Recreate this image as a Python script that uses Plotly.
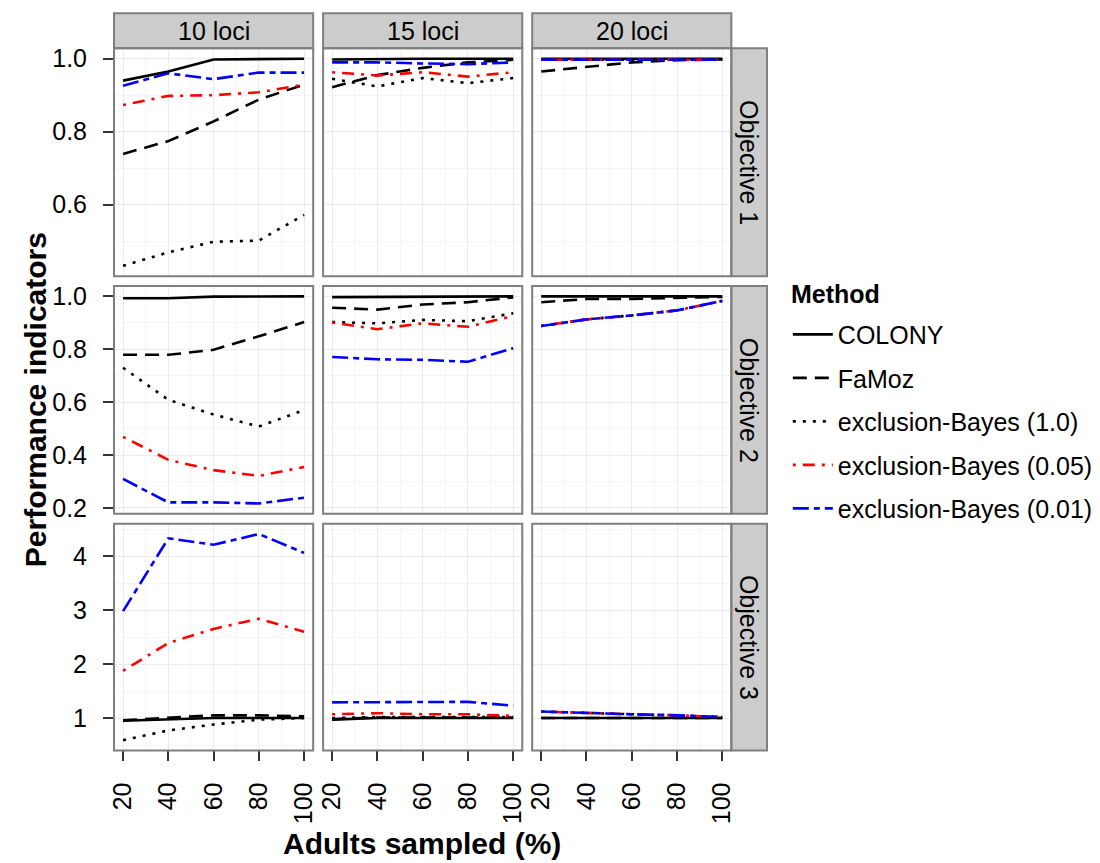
import plotly.graph_objects as go

# ---------------- data ----------------
adults = [20, 40, 60, 80, 100]
loci = ["10 loci", "15 loci", "20 loci"]
objectives = ["Objective 1", "Objective 2", "Objective 3"]
methods = ["COLONY", "FaMoz", "exclusion-Bayes (1.0)",
           "exclusion-Bayes (0.05)", "exclusion-Bayes (0.01)"]

# Objective 1
o1_l10_colony = [0.940, 0.965, 0.998, 0.998, 1.000]
o1_l10_famoz = [0.739, 0.774, 0.828, 0.888, 0.929]
o1_l10_eb100 = [0.432, 0.469, 0.498, 0.501, 0.572]
o1_l10_eb005 = [0.873, 0.898, 0.900, 0.908, 0.929]
o1_l10_eb001 = [0.926, 0.960, 0.944, 0.962, 0.962]

o1_l15_colony = [0.998, 1.000, 1.000, 1.000, 1.000]
o1_l15_famoz = [0.922, 0.955, 0.975, 0.990, 0.997]
o1_l15_eb100 = [0.945, 0.924, 0.947, 0.933, 0.947]
o1_l15_eb005 = [0.963, 0.954, 0.963, 0.951, 0.963]
o1_l15_eb001 = [0.990, 0.990, 0.987, 0.985, 0.990]

o1_l20_colony = [1.000, 1.000, 1.000, 1.000, 1.000]
o1_l20_famoz = [0.965, 0.978, 0.990, 0.996, 0.998]
o1_l20_eb100 = [0.997, 0.997, 0.997, 0.997, 0.997]
o1_l20_eb005 = [0.997, 0.997, 0.997, 0.997, 0.997]
o1_l20_eb001 = [0.997, 0.997, 0.997, 0.997, 0.997]

# Objective 2
o2_l10_colony = [0.993, 0.993, 0.999, 0.999, 1.000]
o2_l10_famoz = [0.779, 0.779, 0.798, 0.849, 0.903]
o2_l10_eb100 = [0.730, 0.609, 0.553, 0.508, 0.570]
o2_l10_eb005 = [0.469, 0.382, 0.343, 0.321, 0.355]
o2_l10_eb001 = [0.310, 0.221, 0.221, 0.217, 0.239]

o2_l15_colony = [0.997, 0.998, 0.999, 0.999, 1.000]
o2_l15_famoz = [0.957, 0.950, 0.969, 0.978, 0.996]
o2_l15_eb100 = [0.903, 0.898, 0.911, 0.906, 0.936]
o2_l15_eb005 = [0.901, 0.876, 0.898, 0.885, 0.926]
o2_l15_eb001 = [0.771, 0.762, 0.760, 0.753, 0.804]

o2_l20_colony = [1.000, 1.000, 1.000, 1.000, 1.000]
o2_l20_famoz = [0.978, 0.990, 0.990, 0.993, 0.998]
o2_l20_eb100 = [0.888, 0.913, 0.928, 0.947, 0.983]
o2_l20_eb005 = [0.888, 0.913, 0.928, 0.947, 0.983]
o2_l20_eb001 = [0.888, 0.913, 0.928, 0.947, 0.983]

# Objective 3
o3_l10_colony = [0.95, 0.98, 1.00, 1.00, 1.00]
o3_l10_famoz = [0.96, 1.00, 1.05, 1.05, 1.03]
o3_l10_eb100 = [0.59, 0.77, 0.88, 0.97, 1.00]
o3_l10_eb005 = [1.875, 2.39, 2.65, 2.84, 2.60]
o3_l10_eb001 = [2.98, 4.33, 4.21, 4.41, 4.06]

o3_l15_colony = [0.97, 1.00, 1.00, 1.00, 1.00]
o3_l15_famoz = [0.98, 1.01, 1.01, 1.01, 1.01]
o3_l15_eb100 = [1.00, 1.02, 1.02, 1.02, 1.02]
o3_l15_eb005 = [1.07, 1.09, 1.07, 1.07, 1.04]
o3_l15_eb001 = [1.29, 1.29, 1.29, 1.30, 1.23]

o3_l20_colony = [1.00, 1.00, 1.00, 1.00, 1.00]
o3_l20_famoz = [1.00, 1.00, 1.00, 1.00, 1.00]
o3_l20_eb100 = [1.12, 1.09, 1.07, 1.05, 1.02]
o3_l20_eb005 = [1.12, 1.09, 1.07, 1.05, 1.02]
o3_l20_eb001 = [1.12, 1.09, 1.07, 1.05, 1.02]

panels = [
    [[o1_l10_colony, o1_l10_famoz, o1_l10_eb100, o1_l10_eb005, o1_l10_eb001],
     [o1_l15_colony, o1_l15_famoz, o1_l15_eb100, o1_l15_eb005, o1_l15_eb001],
     [o1_l20_colony, o1_l20_famoz, o1_l20_eb100, o1_l20_eb005, o1_l20_eb001]],
    [[o2_l10_colony, o2_l10_famoz, o2_l10_eb100, o2_l10_eb005, o2_l10_eb001],
     [o2_l15_colony, o2_l15_famoz, o2_l15_eb100, o2_l15_eb005, o2_l15_eb001],
     [o2_l20_colony, o2_l20_famoz, o2_l20_eb100, o2_l20_eb005, o2_l20_eb001]],
    [[o3_l10_colony, o3_l10_famoz, o3_l10_eb100, o3_l10_eb005, o3_l10_eb001],
     [o3_l15_colony, o3_l15_famoz, o3_l15_eb100, o3_l15_eb005, o3_l15_eb001],
     [o3_l20_colony, o3_l20_famoz, o3_l20_eb100, o3_l20_eb005, o3_l20_eb001]],
]

# ---------------- styles ----------------
colors = ["#000000", "#000000", "#000000", "#FF0000", "#0000FF"]
dashes = ["solid", "14px,8px", "3px,7px", "3px,7px,12px,7px", "16px,5px,6px,5px"]
LW = 2.6
FONT = "Liberation Sans, Arial, Helvetica, sans-serif"
FS = 25

W, H = 1100, 863
col_px = [(109, 310), (320, 521), (531, 732)]
row_px = [(45, 276), (286, 517), (527, 757)]
strip_top = (9.5, 45)
strip_right = (732, 768)

def px2x(p):
    return p / W

def px2y(p):
    return 1 - p / H

fig = go.Figure()
layout_axes = {}
shapes = []
annotations = []

for r in range(3):
    allv = [v for c in range(3) for s in panels[r][c] for v in s]
    lo, hi = min(allv), max(allv)
    pad = (hi - lo) * 0.05
    yrange = [lo - pad, hi + pad]
    if r < 2:
        ydt, ymin_dt = 0.2, 0.1
    else:
        ydt, ymin_dt = 1, 0.5
    for c in range(3):
        k = r * 3 + c + 1
        xs = "" if k == 1 else str(k)
        xname, yname = "x" + xs, "y" + xs
        for m in range(5):
            fig.add_trace(go.Scatter(
                x=adults, y=panels[r][c][m], mode="lines",
                name=methods[m], legendgroup=methods[m],
                showlegend=(k == 1),
                line=dict(color=colors[m], width=LW, dash=dashes[m]),
                xaxis=xname, yaxis=yname, hoverinfo="skip"))
        xa = dict(
            domain=[px2x(col_px[c][0]), px2x(col_px[c][1])],
            anchor=yname, range=[16, 104], tick0=0, dtick=20,
            showgrid=True, gridcolor="#EBEBEB", gridwidth=1.2,
            minor=dict(dtick=10, tick0=0, showgrid=True, gridcolor="#F5F5F5", gridwidth=1),
            zeroline=False, showline=False,
            ticks="outside" if r == 2 else "", ticklen=10, tickwidth=2, tickcolor="#333333",
            showticklabels=(r == 2), tickangle=-90, ticklabelstandoff=11,
            tickfont=dict(size=FS, color="#000000", family=FONT),
            fixedrange=True,
        )
        ya = dict(
            domain=[px2y(row_px[r][1]), px2y(row_px[r][0])],
            anchor=xname, range=yrange, tick0=0, dtick=ydt,
            showgrid=True, gridcolor="#EBEBEB", gridwidth=1.2,
            minor=dict(dtick=ymin_dt, tick0=0, showgrid=True, gridcolor="#F5F5F5", gridwidth=1),
            zeroline=False, showline=False,
            ticks="outside" if c == 0 else "", ticklen=10, tickwidth=2, tickcolor="#333333",
            showticklabels=(c == 0), ticklabelstandoff=11,
            tickformat=".1f" if r < 2 else "d",
            tickfont=dict(size=FS, color="#000000", family=FONT),
            fixedrange=True,
        )
        layout_axes["xaxis" + xs] = xa
        layout_axes["yaxis" + xs] = ya
        shapes.append(dict(type="rect", xref="paper", yref="paper",
                           x0=px2x(col_px[c][0]), x1=px2x(col_px[c][1]),
                           y0=px2y(row_px[r][1]), y1=px2y(row_px[r][0]),
                           line=dict(color="#7F7F7F", width=2), fillcolor="rgba(0,0,0,0)",
                           layer="above"))

for c in range(3):
    shapes.append(dict(type="rect", xref="paper", yref="paper",
                       x0=px2x(col_px[c][0]), x1=px2x(col_px[c][1]),
                       y0=px2y(strip_top[1]), y1=px2y(strip_top[0]),
                       line=dict(color="#7F7F7F", width=2), fillcolor="#CCCCCC", layer="below"))
    annotations.append(dict(xref="paper", yref="paper",
                            x=px2x((col_px[c][0] + col_px[c][1]) / 2),
                            y=px2y((strip_top[0] + strip_top[1]) / 2),
                            text=loci[c], showarrow=False,
                            font=dict(size=FS, color="#000000", family=FONT),
                            xanchor="center", yanchor="middle"))
for r in range(3):
    shapes.append(dict(type="rect", xref="paper", yref="paper",
                       x0=px2x(strip_right[0]), x1=px2x(strip_right[1]),
                       y0=px2y(row_px[r][1]), y1=px2y(row_px[r][0]),
                       line=dict(color="#7F7F7F", width=2), fillcolor="#CCCCCC", layer="below"))
    annotations.append(dict(xref="paper", yref="paper",
                            x=px2x((strip_right[0] + strip_right[1]) / 2),
                            y=px2y((row_px[r][0] + row_px[r][1]) / 2),
                            text=objectives[r], showarrow=False, textangle=90,
                            font=dict(size=FS, color="#000000", family=FONT),
                            xanchor="center", yanchor="middle"))

annotations.append(dict(xref="paper", yref="paper", x=px2x(420), y=px2y(851),
                        text="<b>Adults sampled (%)</b>", showarrow=False,
                        font=dict(size=30, color="#000000", family=FONT),
                        xanchor="center", yanchor="middle"))
annotations.append(dict(xref="paper", yref="paper", x=px2x(30), y=px2y(401),
                        text="<b>Performance indicators</b>", showarrow=False, textangle=-90,
                        font=dict(size=30, color="#000000", family=FONT),
                        xanchor="center", yanchor="middle"))
# legend title
annotations.append(dict(xref="paper", yref="paper", x=px2x(790), y=px2y(294),
                        text="<b>Method</b>", showarrow=False,
                        font=dict(size=FS, color="#000000", family=FONT),
                        xanchor="left", yanchor="middle"))

fig.update_layout(
    width=W, height=H, margin=dict(l=0, r=0, t=0, b=0),
    paper_bgcolor="#FFFFFF", plot_bgcolor="#FFFFFF",
    font=dict(family=FONT, color="#000000"),
    shapes=shapes, annotations=annotations,
    legend=dict(x=px2x(789), y=px2y(312), xanchor="left", yanchor="top",
                font=dict(size=FS, family=FONT, color="#000000"),
                itemwidth=40,
                tracegroupgap=8, bgcolor="rgba(0,0,0,0)", itemclick=False,
                itemdoubleclick=False),
    **layout_axes,
)

fig.write_html("out.html")
